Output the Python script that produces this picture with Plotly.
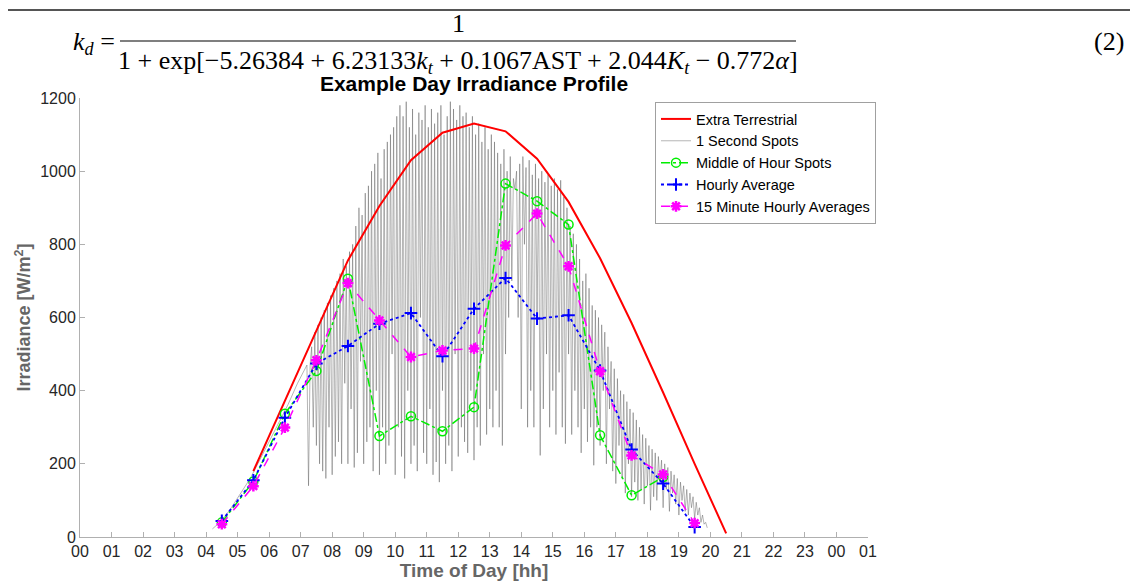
import plotly.graph_objects as go

# ---------------- data ----------------
hour_mid = [4.5, 5.5, 6.5, 7.5, 8.5, 9.5, 10.5, 11.5, 12.5, 13.5, 14.5, 15.5, 16.5, 17.5, 18.5, 19.5]

et_hours = [5.5, 6.5, 7.5, 8.5, 9.5, 10.5, 11.5, 12.5, 13.5, 14.5, 15.5, 16.5, 17.5, 18.5, 19.5, 20.5]
et_vals = [180, 372, 564, 756, 905, 1030, 1105, 1130, 1109, 1034, 916, 762, 585, 395, 200, 10]

mid_hours = [4.5, 5.5, 6.5, 7.5, 8.5, 9.5, 10.5, 11.5, 12.5, 13.5, 14.5, 15.5, 16.5, 17.5, 18.5]
mid_vals = [40, 152, 337, 454, 706, 276, 330, 289, 355, 966, 918, 854, 278, 114, 164]

hourly_avg = [44, 155, 326, 474, 522, 583, 612, 494, 624, 708, 597, 606, 455, 239, 146, 27]
min15_avg = [35, 139, 299, 483, 694, 592, 492, 510, 515, 797, 884, 740, 453, 223, 171, 38]

# 1 second spots: smooth morning ramp, then cloud-affected samples
ramp_t = [4.2, 4.5, 4.8, 5.1, 5.4, 5.7, 6.0, 6.3, 6.6, 6.9, 7.2]
ramp_v = [22, 45, 80, 120, 160, 210, 262, 312, 362, 420, 470]
spike_start = 7.25
spike_step = 0.05
spike_v = [
    140, 470, 520, 300, 560, 250, 580, 200, 600, 180, 620, 160, 640, 300, 660, 170, 680, 220, 700, 260,
    720, 200, 760, 420, 740, 200, 780, 350, 800, 190, 850, 230, 900, 480, 880, 200, 940, 260, 960, 300,
    1000, 180, 1020, 400, 1050, 170, 980, 300, 1060, 200, 1080, 250, 1100, 500, 1120, 170, 1150, 300, 1180, 220,
    1150, 160, 1190, 400, 1120, 200, 1170, 250, 1100, 180, 1160, 600, 1140, 230, 1180, 200, 1120, 350, 1170, 170,
    1130, 205, 1160, 150, 1180, 400, 1100, 200, 1150, 250, 1190, 180, 1170, 500, 1140, 220, 1180, 300, 1150, 260,
    1160, 230, 1120, 400, 1150, 210, 1100, 300, 1130, 250, 1080, 500, 1120, 280, 1060, 350, 1100, 300, 1080, 400,
    1050, 300, 1020, 250, 1060, 500, 1000, 600, 1040, 700, 980, 950, 1000, 600, 1020, 350, 1040, 800, 1010, 300,
    1030, 400, 990, 300, 1020, 600, 980, 223, 1000, 350, 970, 500, 990, 300, 960, 400, 980, 280, 950, 450,
    975, 300, 930, 255, 900, 500, 850, 280, 829, 400, 800, 300, 760, 230, 700, 350, 720, 260, 680, 300,
    633, 196, 620, 300, 600, 250, 580, 400, 560, 200, 520, 350, 480, 180, 460, 146, 433, 250, 400, 160,
    390, 120, 370, 200, 350, 110, 340, 150, 320, 100, 300, 130, 280, 90, 270, 140, 250, 73, 240, 110,
    230, 100, 220, 150, 210, 80, 200, 130, 190, 70, 180, 120, 170, 90, 160, 60, 150, 100, 140, 70,
    130, 60, 120, 80, 110, 50, 95, 60, 80, 40, 60, 35, 40, 25,
]
spike_t = [round(spike_start + spike_step * i, 3) for i in range(len(spike_v))]
sec_t = ramp_t + spike_t
sec_v = ramp_v + spike_v

x_tickvals = list(range(0, 26))
x_ticktext = ["%02d" % (h % 24) for h in x_tickvals]
y_tickvals = [0, 200, 400, 600, 800, 1000, 1200]

# ---------------- figure ----------------
fig = go.Figure()

fig.add_trace(go.Scatter(
    x=sec_t, y=sec_v, mode="lines", name="1 Second Spots",
    line=dict(color="rgba(85,85,85,0.55)", width=0.8), legendrank=2))

fig.add_trace(go.Scatter(
    x=et_hours, y=et_vals, mode="lines", name="Extra Terrestrial",
    line=dict(color="#ff0000", width=2), legendrank=1))

fig.add_trace(go.Scatter(
    x=mid_hours, y=mid_vals, mode="lines+markers", name="Middle of Hour Spots",
    line=dict(color="#00ee00", width=1.5, dash="dashdot"),
    marker=dict(symbol="circle-open", size=9, color="#00ee00", line=dict(width=1.5)),
    legendrank=3))

fig.add_trace(go.Scatter(
    x=hour_mid, y=hourly_avg, mode="lines+markers", name="Hourly Average",
    line=dict(color="#0000ff", width=1.8, dash="dot"),
    marker=dict(symbol="cross-thin-open", size=9, color="#0000ff", line=dict(width=2, color="#0000ff")),
    legendrank=4))

fig.add_trace(go.Scatter(
    x=hour_mid, y=min15_avg, mode="lines+markers", name="15 Minute Hourly Averages",
    line=dict(color="#ff00ff", width=1.5, dash="dash"),
    marker=dict(symbol="asterisk-open", size=9, color="#ff00ff", line=dict(width=2.5, color="#ff00ff")),
    legendrank=5))

# page body has an 8px margin; figure is sized so the plot lands where the reference has it
OFF = 8
L, R, T, B = 72, 270, 90, 49
W, H = 1130, 578
pw, ph = W - L - R, H - T - B


def px_x(p):
    return (p - OFF - L) / pw


def px_y(p):
    return (H - B - (p - OFF)) / ph


axis_col = "#b0b0b0"
tick_font = dict(family="Liberation Sans, Arial", size=16, color="#262626")
title_font = dict(family="Liberation Sans, Arial", size=18, color="#666666")

fig.update_layout(
    width=W, height=H,
    margin=dict(l=L, r=R, t=T, b=B, autoexpand=False),
    paper_bgcolor="white", plot_bgcolor="white",
    showlegend=True,
    legend=dict(
        x=px_x(655), y=px_y(102), xanchor="left", yanchor="top",
        bgcolor="white", bordercolor="#a0a0a0", borderwidth=1,
        font=dict(family="Liberation Sans, Arial", size=14.5, color="#000000"),
        itemwidth=30, tracegroupgap=0),
    title=dict(text="<b>Example Day Irradiance Profile</b>", xref="paper", x=px_x(474), xanchor="center",
               yref="container", y=1 - (84 - OFF) / H, yanchor="middle",
               font=dict(family="Liberation Sans, Arial", size=21, color="#000000")),
    xaxis=dict(range=[0, 25], tickvals=x_tickvals, ticktext=x_ticktext, automargin=False,
               showline=True, linecolor=axis_col, linewidth=1, ticks="inside", ticklen=5,
               tickcolor=axis_col, showgrid=False, zeroline=False, tickfont=tick_font,
               title=dict(text="<b>Time of Day [hh]</b>", font=dict(title_font, size=19), standoff=4)),
    yaxis=dict(range=[0, 1200], tickvals=y_tickvals, automargin=False,
               showline=True, linecolor=axis_col, linewidth=1, ticks="inside", ticklen=5,
               tickcolor=axis_col, showgrid=False, zeroline=False, tickfont=tick_font,
               title=dict(text="<b>Irradiance [W/m<sup>2</sup>]</b>", font=title_font, standoff=4)),
)

# ---------------- equation header ----------------
eq_font = dict(family="Liberation Serif, Times New Roman", size=26, color="#000000")
fig.add_annotation(xref="paper", yref="paper", x=px_x(458), y=px_y(23), text="1",
                   showarrow=False, font=eq_font, xanchor="center", yanchor="middle")
fig.add_annotation(xref="paper", yref="paper", x=px_x(458), y=px_y(62),
                   text="1 + exp[−5.26384 + 6.23133<i>k<sub>t</sub></i> + 0.1067AST + 2.044<i>K<sub>t</sub></i> − 0.772<i>α</i>]",
                   showarrow=False, font=eq_font, xanchor="center", yanchor="middle")
fig.add_annotation(xref="paper", yref="paper", x=px_x(117), y=px_y(43),
                   text="<i>k<sub>d</sub></i> =", showarrow=False, font=eq_font,
                   xanchor="right", yanchor="middle")
fig.add_annotation(xref="paper", yref="paper", x=px_x(1126), y=px_y(42),
                   text="(2)", showarrow=False, font=eq_font, xanchor="right", yanchor="middle")
fig.add_shape(type="line", xref="paper", yref="paper",
              x0=px_x(120), x1=px_x(796), y0=px_y(41), y1=px_y(41),
              line=dict(color="#000000", width=1.2))
fig.add_shape(type="line", xref="paper", yref="paper",
              x0=px_x(OFF), x1=px_x(1138), y0=px_y(OFF + 2), y1=px_y(OFF + 2),
              line=dict(color="#555555", width=2))

fig.write_html("out.html")
